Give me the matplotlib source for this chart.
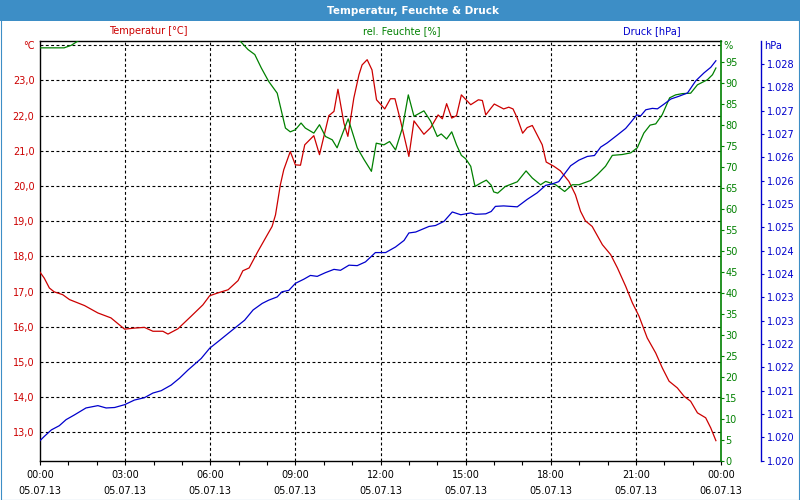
import matplotlib
matplotlib.use('Agg')
import matplotlib.pyplot as plt
import matplotlib.ticker as mticker
from matplotlib.patches import Rectangle

# ── data (hours since 05.07.13 00:00) ─────────────────────────
t_temp = [0, 0.15, 0.33, 0.5, 0.8, 1.04, 1.57, 2.04, 2.5, 2.98, 3.33, 3.68, 3.98,
          4.33, 4.51, 4.86, 5.33, 5.74, 5.98, 6.27, 6.63, 6.98, 7.15, 7.37, 7.68,
          8.01, 8.18, 8.3, 8.47, 8.59, 8.82, 9.0, 9.18, 9.33, 9.65, 9.85, 10.18,
          10.36, 10.5, 10.71, 10.85, 11.06, 11.24, 11.35, 11.53, 11.7, 11.86, 12.15,
          12.35, 12.51, 12.71, 13.0, 13.18, 13.53, 13.77, 14.03, 14.18, 14.33, 14.51,
          14.68, 14.85, 15.18, 15.45, 15.59, 15.71, 15.9, 16.01, 16.34, 16.52, 16.67,
          16.82, 17.01, 17.17, 17.35, 17.7, 17.84, 18.11, 18.34, 18.64, 18.87, 19.05,
          19.22, 19.46, 19.82, 20.11, 20.35, 20.64, 20.88, 21.11, 21.4, 21.7, 21.93,
          22.17, 22.46, 22.7, 22.93, 23.17, 23.46, 23.64, 23.82]
temp = [17.55, 17.38, 17.1, 16.99, 16.91, 16.77, 16.6, 16.39, 16.25, 15.93, 15.96,
        15.98, 15.87, 15.87, 15.79, 15.94, 16.3, 16.62, 16.88, 16.96, 17.05, 17.31,
        17.59, 17.67, 18.14, 18.61, 18.85, 19.18, 20.03, 20.46, 20.98, 20.6, 20.59,
        21.17, 21.43, 20.89, 22.0, 22.12, 22.75, 21.79, 21.41, 22.5, 23.16, 23.44,
        23.59, 23.3, 22.45, 22.19, 22.48, 22.48, 21.84, 20.84, 21.85, 21.47, 21.66,
        22.02, 21.91, 22.34, 21.93, 22.0, 22.59, 22.31, 22.45, 22.43, 22.02, 22.22,
        22.33, 22.19, 22.24, 22.19, 21.93, 21.5, 21.66, 21.72, 21.17, 20.68, 20.56,
        20.43, 20.13, 19.75, 19.28, 19.01, 18.85, 18.33, 18.05, 17.67, 17.15, 16.67,
        16.3, 15.68, 15.25, 14.83, 14.45, 14.26, 14.02, 13.88, 13.55, 13.41, 13.12,
        12.76]

t_hum = [0, 0.5, 0.85, 1.1, 1.4, 1.7, 6.7, 7.04, 7.33, 7.57, 7.8, 8.06, 8.36, 8.65,
         8.82, 9.0, 9.2, 9.35, 9.65, 9.85, 10.06, 10.3, 10.47, 10.86, 11.18, 11.42,
         11.68, 11.85, 12.12, 12.32, 12.53, 12.77, 12.98, 13.18, 13.53, 13.77, 14.0,
         14.14, 14.33, 14.51, 14.68, 14.85, 15.0, 15.18, 15.33, 15.53, 15.73, 15.9,
         15.99, 16.13, 16.4, 16.82, 17.13, 17.35, 17.64, 17.82, 18.17, 18.49, 18.76,
         18.99, 19.4, 19.64, 19.93, 20.17, 20.52, 20.82, 21.05, 21.28, 21.5, 21.7,
         21.93, 22.19, 22.4, 22.64, 22.93, 23.17, 23.52, 23.7, 23.82]
hum = [98.3, 98.3, 98.3, 98.9, 100.2, 102, 102, 100, 97.9, 96.7, 93.5, 90.3, 87.5,
       79.2, 78.3, 78.8, 80.4, 79.2, 78.0, 80.0, 77.2, 76.4, 74.5, 81.4, 74.5, 71.7,
       68.9, 75.6, 75.2, 76.0, 74.0, 79.2, 87.1, 82.0, 83.3, 80.8, 77.2, 77.8, 76.6,
       78.3, 75.2, 72.7, 71.9, 70.1, 65.3, 66.1, 66.8, 65.6, 64.0, 63.7, 65.3, 66.4,
       69.0, 67.3, 65.7, 66.5, 65.7, 64.1, 65.7, 65.7, 66.7, 68.1, 70.1, 72.7, 72.9,
       73.3, 74.5, 78.0, 79.9, 80.2, 82.4, 86.4, 87.1, 87.4, 87.5, 89.5, 90.7, 91.9,
       93.5]

t_press = [0, 0.15, 0.4, 0.68, 0.92, 1.21, 1.62, 2.04, 2.33, 2.63, 2.98, 3.33, 3.68,
           3.98, 4.27, 4.62, 4.92, 5.21, 5.68, 5.98, 6.27, 6.86, 7.21, 7.51, 7.83,
           8.06, 8.36, 8.53, 8.77, 9.0, 9.3, 9.53, 9.77, 10.06, 10.36, 10.59, 10.89,
           11.18, 11.47, 11.82, 12.18, 12.53, 12.83, 13.0, 13.24, 13.71, 13.94, 14.24,
           14.53, 14.83, 15.18, 15.35, 15.71, 15.9, 16.05, 16.34, 16.82, 17.17, 17.52,
           17.82, 18.05, 18.28, 18.7, 18.99, 19.29, 19.54, 19.76, 19.99, 20.35, 20.64,
           20.82, 21.03, 21.17, 21.35, 21.58, 21.76, 21.99, 22.23, 22.52, 22.82, 23.11,
           23.4, 23.64, 23.82]
press = [1020.43, 1020.52, 1020.66, 1020.75, 1020.88, 1020.98, 1021.13, 1021.18,
         1021.13, 1021.14, 1021.2, 1021.3, 1021.35, 1021.45, 1021.5, 1021.62, 1021.77,
         1021.94, 1022.19, 1022.41, 1022.55, 1022.84, 1023.01, 1023.23, 1023.37,
         1023.44, 1023.51, 1023.62, 1023.65, 1023.8, 1023.89, 1023.97, 1023.95,
         1024.03, 1024.1, 1024.08, 1024.19, 1024.18, 1024.26, 1024.46, 1024.46,
         1024.58, 1024.72, 1024.88, 1024.9, 1025.02, 1025.04, 1025.13, 1025.33,
         1025.27, 1025.31, 1025.28, 1025.29, 1025.34, 1025.45, 1025.46, 1025.44,
         1025.6, 1025.74, 1025.9, 1025.93, 1025.98, 1026.32, 1026.44, 1026.52,
         1026.54, 1026.72, 1026.81, 1026.98, 1027.12, 1027.25, 1027.41, 1027.39,
         1027.52, 1027.55, 1027.54, 1027.64, 1027.75, 1027.81, 1027.88, 1028.14,
         1028.31, 1028.43, 1028.57]

x_ticks = [0, 3, 6, 9, 12, 15, 18, 21, 24]
x_labels = ['00:00\n05.07.13', '03:00\n05.07.13', '06:00\n05.07.13', '09:00\n05.07.13',
            '12:00\n05.07.13', '15:00\n05.07.13', '18:00\n05.07.13', '21:00\n05.07.13',
            '00:00\n06.07.13']
temp_ticks = [13, 14, 15, 16, 17, 18, 19, 20, 21, 22, 23]
hum_ticks = list(range(0, 100, 5))
press_ticks = [1020 + 0.5 * k for k in range(18)]

RED = '#cc0000'
GREEN = '#008000'
BLUE = '#0000cc'
BAR = '#3d8ec6'

plt.rcParams.update({'font.family': 'DejaVu Sans', 'font.size': 7})

fig = plt.figure(figsize=(8, 5), dpi=100)
W, H = 800, 500
ax = fig.add_axes([40 / W, 1 - 460.7 / H, 681 / W, 420 / H])
ax2 = ax.twinx()
ax3 = ax.twinx()

# title bar and frame
fig.patches.append(Rectangle((0, 1 - 21 / H), 1, 21 / H, transform=fig.transFigure,
                             facecolor=BAR, edgecolor='none', zorder=0))
fig.patches.append(Rectangle((0.5 / W, 0.5 / H), 1 - 1.5 / W, 1 - 1 / H, transform=fig.transFigure,
                             facecolor='none', edgecolor=BAR, linewidth=0.8, zorder=0))
fig.text(413 / W, 1 - 10.5 / H, 'Temperatur, Feuchte & Druck', ha='center', va='center',
         color='white', fontweight='bold', fontsize=7.5)
fig.text(148 / W, 1 - 31 / H, 'Temperatur [°C]', ha='center', va='center', color=RED)
fig.text(402 / W, 1 - 31 / H, 'rel. Feuchte [%]', ha='center', va='center', color=GREEN)
fig.text(652 / W, 1 - 31 / H, 'Druck [hPa]', ha='center', va='center', color=BLUE)

# temperature
ax.plot(t_temp, temp, color=RED, linewidth=0.9, zorder=3)
ax.set_xlim(0, 24)
ax.set_ylim(12.19, 24.13)
ax.set_yticks(temp_ticks + [24])
ax.yaxis.set_major_formatter(mticker.FuncFormatter(
    lambda v, _: '°C' if v >= 24 else f'{v:.1f}'.replace('.', ',')))
ax.tick_params(axis='y', length=0, pad=4, colors=RED)
ax.set_xticks(x_ticks)
ax.set_xticklabels(x_labels, linespacing=1.65)
ax.set_xticks(range(25), minor=True)
ax.tick_params(axis='x', which='both', length=3, width=0.8, pad=4, colors='black')
ax.grid(True, which='major', color='black', linestyle=(0, (2.6, 2.2)), linewidth=0.8)
for gl in ax.get_xgridlines():
    if gl.get_xdata()[0] in (0, 24):
        gl.set_visible(False)
ax.spines['right'].set_visible(False)
for s in ('left', 'top', 'bottom'):
    ax.spines[s].set_color('black')
    ax.spines[s].set_linewidth(1.0)

# humidity
ax2.plot(t_hum, hum, color=GREEN, linewidth=0.9, zorder=3)
ax2.set_ylim(0, 100)
ax2.set_yticks(hum_ticks)
ax2.tick_params(axis='y', length=2, width=0.8, pad=1, colors=GREEN)
for s in ('left', 'top', 'bottom'):
    ax2.spines[s].set_visible(False)
ax2.spines['right'].set_color(GREEN)
ax2.spines['right'].set_linewidth(1.2)
ax2.text(1.0, 1.0, ' %', transform=ax2.transAxes, ha='left', va='top', color=GREEN)

# pressure
ax3.plot(t_press, press, color=BLUE, linewidth=0.9, zorder=3)
ax3.set_ylim(1020, 1029)
ax3.set_yticks(press_ticks)
ax3.yaxis.set_major_formatter(mticker.FuncFormatter(
    lambda v, _: f'{int(v) // 1000}.{int(v) % 1000:03d}'))
ax3.tick_params(axis='y', length=2.5, width=0.8, pad=2, colors=BLUE)
ax3.spines['right'].set_position(('outward', 28.8))
for s in ('left', 'top', 'bottom'):
    ax3.spines[s].set_visible(False)
ax3.spines['right'].set_color(BLUE)
ax3.spines['right'].set_linewidth(1.0)
ax3.text(1 + 43 / 681, 1.0, 'hPa', transform=ax3.transAxes, ha='left', va='top', color=BLUE)

fig.savefig('out.png', dpi=100)
